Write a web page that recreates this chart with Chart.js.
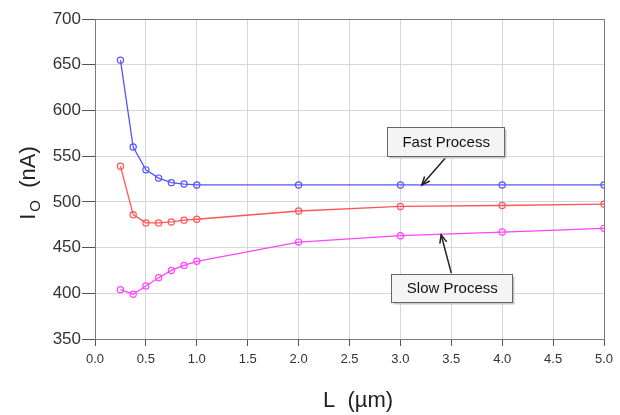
<!DOCTYPE html>
<html>
<head>
<meta charset="utf-8">
<style>
  html, body { margin: 0; padding: 0; background: #fff; }
  #wrap { width: 620px; height: 415px; }
</style>
<script src="https://cdn.jsdelivr.net/npm/chart.js@4/dist/chart.umd.min.js"></script>
</head>
<body>
<div id="wrap"><canvas id="chart" width="620" height="415"></canvas></div>
<script>
// --- DATA ---
const lengths = [0.25, 0.375, 0.5, 0.625, 0.75, 0.875, 1.0, 2, 3, 4, 5];
const seriesBlue = [655, 560, 535, 526, 521, 519.5, 518.5, 518.5, 518.5, 518.5, 518.5];
const seriesRed = [539, 486, 477, 477, 478, 480, 481, 490, 495, 496, 497.5];
const seriesMagenta = [404, 399, 408, 417, 425, 430.5, 435, 456, 463, 467, 471];
const xTicks = [0, 0.5, 1, 1.5, 2, 2.5, 3, 3.5, 4, 4.5, 5];
const yTicks = [350, 400, 450, 500, 550, 600, 650, 700];

const FONT = '"Liberation Sans", Arial, sans-serif';
const pts = vals => vals.map((v, i) => ({ x: lengths[i], y: v }));

function ds(vals, color) {
    return {
        data: pts(vals),
        borderColor: color,
        borderWidth: 1.3,
        pointRadius: 3.1,
        pointBorderWidth: 1.2,
        pointBackgroundColor: 'rgba(0,0,0,0)',
        pointBorderColor: color,
        tension: 0
    };
}

// frame, axis titles, callout boxes
const extras = {
    id: 'extras',
    afterDraw(chart) {
        const { ctx, chartArea: a, scales: { x, y } } = chart;
        ctx.save();
        ctx.strokeStyle = '#7a7a7a';
        ctx.lineWidth = 1;
        ctx.strokeRect(a.left + 0.5, a.top + 0.5, a.right - a.left, a.bottom - a.top);

        // x title
        ctx.fillStyle = '#222';
        ctx.font = '22px ' + FONT;
        ctx.textAlign = 'center';
        ctx.textBaseline = 'middle';
        ctx.fillText('L  (µm)', 358, 401);

        // y title with subscript
        ctx.translate(35, 184);
        ctx.rotate(-Math.PI / 2);
        ctx.textBaseline = 'alphabetic';
        ctx.textAlign = 'left';
        ctx.font = '22px ' + FONT;
        const w0 = ctx.measureText('I').width;
        const rest = '  (nA)';
        const w2 = ctx.measureText(rest).width;
        ctx.font = '15px ' + FONT;
        const w1 = ctx.measureText('O').width;
        const sx = -(w0 + w1 + w2) / 2;
        ctx.font = '22px ' + FONT;
        ctx.fillText('I', sx, 0);
        ctx.fillText(rest, sx + w0 + w1 + 2, 0);
        ctx.font = '15px ' + FONT;
        ctx.fillText('O', sx + w0 + 2, 5);
        ctx.restore();

        const callouts = [
            { text: 'Fast Process', bx: 3.44, by: 566, w: 117, h: 29, tail: [3.45, 549], tip: [3.21, 518.5] },
            { text: 'Slow Process', bx: 3.50, by: 405.5, w: 121, h: 28, tail: [3.50, 422], tip: [3.40, 464] }
        ];
        callouts.forEach(c => {
            const x1 = x.getPixelForValue(c.tail[0]), y1 = y.getPixelForValue(c.tail[1]);
            const x2 = x.getPixelForValue(c.tip[0]), y2 = y.getPixelForValue(c.tip[1]);
            ctx.save();
            ctx.strokeStyle = '#222';
            ctx.lineWidth = 1.5;
            ctx.beginPath();
            ctx.moveTo(x1, y1);
            ctx.lineTo(x2, y2);
            ctx.stroke();
            const ang = Math.atan2(y2 - y1, x2 - x1);
            const hl = 9;
            ctx.beginPath();
            ctx.moveTo(x2 - hl * Math.cos(ang - 0.4), y2 - hl * Math.sin(ang - 0.4));
            ctx.lineTo(x2, y2);
            ctx.lineTo(x2 - hl * Math.cos(ang + 0.4), y2 - hl * Math.sin(ang + 0.4));
            ctx.stroke();
            const cx = x.getPixelForValue(c.bx), cy = y.getPixelForValue(c.by);
            const l = Math.round(cx - c.w / 2) + 0.5, t = Math.round(cy - c.h / 2) + 0.5;
            ctx.fillStyle = '#c8c8c8';
            ctx.fillRect(l + 2, t + 2, c.w, c.h);
            ctx.fillStyle = '#f4f4f4';
            ctx.fillRect(l, t, c.w, c.h);
            ctx.strokeStyle = '#666';
            ctx.lineWidth = 1;
            ctx.strokeRect(l, t, c.w, c.h);
            ctx.fillStyle = '#111';
            ctx.font = '15px ' + FONT;
            ctx.textAlign = 'center';
            ctx.textBaseline = 'middle';
            ctx.fillText(c.text, cx + 1, cy + 1);
            ctx.restore();
        });
    }
};

new Chart(document.getElementById('chart'), {
    type: 'line',
    data: {
        datasets: [
            ds(seriesBlue, '#5555ff'),
            ds(seriesRed, '#ff5555'),
            ds(seriesMagenta, '#ff44ff')
        ]
    },
    options: {
        responsive: false,
        animation: false,
        layout: { padding: { top: 19, right: 16, left: 0, bottom: 0 } },
        plugins: { legend: { display: false }, tooltip: { enabled: false } },
        scales: {
            x: {
                type: 'linear',
                min: 0,
                max: 5,
                afterBuildTicks: s => { s.ticks = xTicks.map(v => ({ value: v })); },
                afterFit: s => { s.height = 76; },
                grid: { color: '#d6d6d6', tickColor: '#555', tickLength: 7, lineWidth: 1 },
                border: { color: '#555', width: 1 },
                ticks: {
                    color: '#333',
                    padding: 6,
                    font: { family: FONT, size: 13 },
                    callback: v => v.toFixed(1)
                }
            },
            y: {
                min: 350,
                max: 700,
                afterBuildTicks: s => { s.ticks = yTicks.map(v => ({ value: v })); },
                afterFit: s => { s.width = 95; },
                grid: { color: '#d6d6d6', tickColor: '#555', tickLength: 13, lineWidth: 1 },
                border: { color: '#555', width: 1 },
                ticks: {
                    color: '#333',
                    padding: 1,
                    font: { family: FONT, size: 17 }
                }
            }
        }
    },
    plugins: [extras]
});
</script>
</body>
</html>
